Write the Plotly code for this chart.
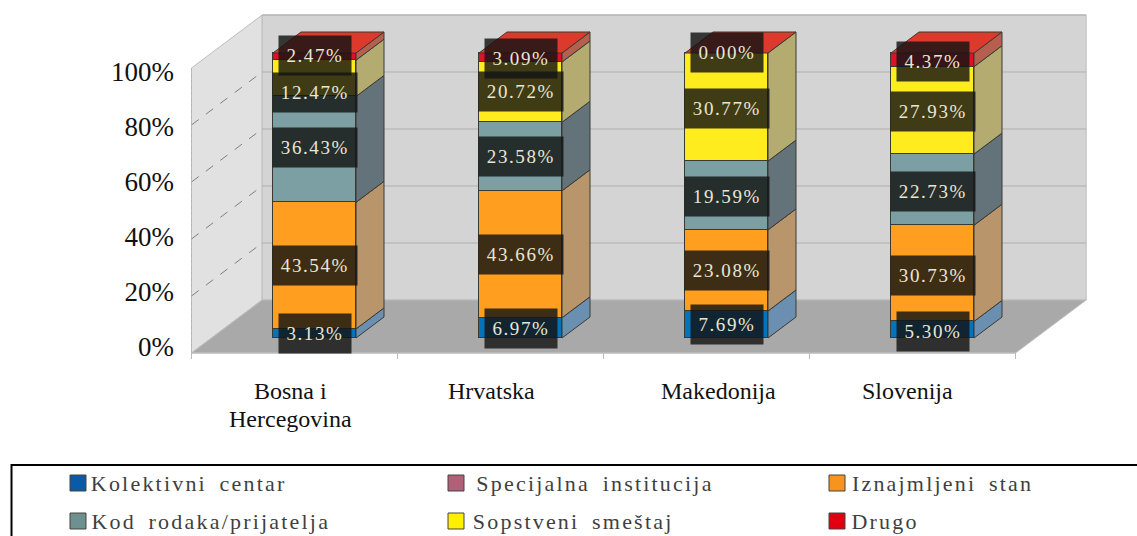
import numpy as np
import plotly.graph_objects as go

# ---------- data ----------
CATEGORIES = ["Bosna i<br>Hercegovina", "Hrvatska", "Makedonija", "Slovenija"]
SERIES = ["Kolektivni centar", "Specijalna institucija", "Iznajmljeni stan",
          "Kod rodaka/prijatelja", "Sopstveni smeštaj", "Drugo"]
KOLEKTIVNI = [3.13, 6.97, 7.69, 5.30]
SPECIJALNA = [0.0, 0.0, 0.0, 0.0]      # in the legend, but no visible band in any bar
IZNAJMLJENI = [43.54, 43.66, 23.08, 30.73]
KOD_RODAKA = [36.43, 23.58, 19.59, 22.73]
SOPSTVENI = [12.47, 20.72, 30.77, 27.93]
DRUGO = [2.47, 3.09, 0.00, 4.37]
VALUES = [KOLEKTIVNI, SPECIJALNA, IZNAJMLJENI, KOD_RODAKA, SOPSTVENI, DRUGO]
Y_TICKS = [0, 20, 40, 60, 80, 100]
Y_TICK_LABELS = ["0%", "20%", "40%", "60%", "80%", "100%"]

# ---------- styles / layout constants ----------
W, H = 1137, 536
FONT = "Liberation Serif"
FRONT = ["#0672B8", "#A85A70", "#FF9E1F", "#7C9FA3", "#FFEC1E", "#DC1228"]
SIDE = ["#6A8FB0", "#8A6A74", "#B8956B", "#64727A", "#B3AB70", "#B5604E"]
TOP = "#DD3A2E"
SWATCH = ["#0A5AA8", "#B2607A", "#F7941E", "#6E9090", "#FFF000", "#E00010"]
EDGE = "#3A3A32"

PX_X0, PX_DX = 314.5, 206.0      # bar 0 centre, px per category
PX_Y0, PX_DY = 338.0, 2.85       # bar base, px per percent
BAR_W = 83 / PX_DX
DX, DY = 28 / PX_DX, 21 / PX_DY  # projection of one bar depth
D_FRONT, D_BACK = -0.714, 1.81
XL, XR = -0.5, 3.5


def proj(x, v, d):
    return x + d * DX, v + d * DY


def poly(points):
    xs, ys = zip(*points)
    return list(xs) + [xs[0], None], list(ys) + [ys[0], None]


def path(points):
    return "M" + " L".join(f"{x:.5f},{y:.4f}" for x, y in points) + " Z"


def line_shape(p, q, color, width=1, dash="solid"):
    return dict(type="line", xref="x", yref="y", layer="below", x0=p[0], y0=p[1], x1=q[0], y1=q[1],
                line=dict(color=color, width=width, dash=dash))


shapes = []
# walls and floor
walls = [
    ([(XL, 0, D_FRONT), (XL, 100, D_FRONT), (XL, 100, D_BACK), (XL, 0, D_BACK)], "#E1E1E1"),
    ([(XL, 0, D_BACK), (XL, 100, D_BACK), (XR, 100, D_BACK), (XR, 0, D_BACK)], "#D4D4D4"),
    ([(XL, 0, D_FRONT), (XL, 0, D_BACK), (XR, 0, D_BACK), (XR, 0, D_FRONT)], "#A9A9A9"),
]
for pts, col in walls:
    shapes.append(dict(type="path", xref="x", yref="y", layer="below",
                       path=path([proj(*p) for p in pts]), fillcolor=col,
                       line=dict(color="#BDBDBD", width=1)))
for t in Y_TICKS:
    if t > 0:
        shapes.append(line_shape(proj(XL, t, D_BACK), proj(XR, t, D_BACK), "#B0B0B0"))
    if 0 < t < 100:
        shapes.append(line_shape(proj(XL, t, D_FRONT), proj(XL, t, D_BACK), "#808080", 1, "dash"))
shapes.append(line_shape(proj(XL, 0, D_FRONT), proj(XL, 100, D_FRONT), "#B5B5B5", 1, "dot"))
for k in range(5):
    p = proj(XL + k, 0, D_FRONT)
    shapes.append(line_shape(p, (p[0], p[1] - 6 / PX_DY), "#BBBBBB"))
shapes.append(line_shape(proj(XL, 0, D_FRONT), proj(XR, 0, D_FRONT), "#BBBBBB"))

fig = go.Figure()
x_pos = list(range(len(CATEGORIES)))

# fronts of the bars (normalised to 100 % by the library)
for name, vals, col in zip(SERIES, VALUES, FRONT):
    fig.add_trace(go.Bar(x=x_pos, y=vals, name=name, width=BAR_W, showlegend=False,
                         marker=dict(color=col, line=dict(color=EDGE, width=1))))

# side and top faces, from the same values
arr = np.array(VALUES, dtype=float)
cum = np.cumsum(arr, axis=0) / arr.sum(axis=0) * 100
lower = np.vstack([np.zeros(arr.shape[1]), cum[:-1]])
for s, name in enumerate(SERIES):
    xs, ys = [], []
    for i in x_pos:
        xr = i + BAR_W / 2
        a, b = lower[s, i], cum[s, i]
        if b - a <= 0:
            continue
        px, py = poly([proj(xr, a, 0), proj(xr, b, 0), proj(xr, b, 1), proj(xr, a, 1)])
        xs += px
        ys += py
    fig.add_trace(go.Scatter(x=xs, y=ys, mode="lines", fill="toself", fillcolor=SIDE[s],
                             line=dict(color=EDGE, width=1), showlegend=False, hoverinfo="skip",
                             name=name + " side"))
xs, ys = [], []
for i in x_pos:
    xl, xr = i - BAR_W / 2, i + BAR_W / 2
    px, py = poly([proj(xl, 100, 0), proj(xr, 100, 0), proj(xr, 100, 1), proj(xl, 100, 1)])
    xs += px
    ys += py
fig.add_trace(go.Scatter(x=xs, y=ys, mode="lines", fill="toself", fillcolor=TOP,
                         line=dict(color=EDGE, width=1), showlegend=False, hoverinfo="skip", name="top"))

# carrier of the percentage axis
fig.add_trace(go.Scatter(x=[0] * len(Y_TICKS), y=Y_TICKS, yaxis="y2", mode="markers", opacity=0,
                         showlegend=False, hoverinfo="skip", name="axis"))

# value labels: pixel rows of the printed boxes, bar by bar
LABEL_ROWS = [
    [333, 266, 147, 93, 55],
    [328, 254, 156, 92, 58],
    [324, 270, 196, 108, 53],
    [331, 275, 191, 111, 61],
]
LABEL_SERIES = [KOLEKTIVNI, IZNAJMLJENI, KOD_RODAKA, SOPSTVENI, DRUGO]
anns = []
for i in x_pos:
    for vals, row in zip(LABEL_SERIES, LABEL_ROWS[i]):
        txt = f"{vals[i]:.2f}%"
        wide = len(txt) > 5
        anns.append(dict(x=i, xref="x", y=1 - row / H, yref="paper", text=txt, showarrow=False,
                         xanchor="center", yanchor="middle", width=84 if wide else 72, height=39,
                         bgcolor="rgba(20,20,20,0.82)", borderpad=0,
                         font=dict(family=FONT, size=19, color="#EAE6D2")))
n_value = len(anns)

# category labels (placed as in the reference, not under the bars)
CAT_CENTRES = [290, 491, 718, 907]
for txt, cx in zip(CATEGORIES, CAT_CENTRES):
    for j, part in enumerate(txt.split("<br>")):
        anns.append(dict(x=cx / W, xref="paper", y=1 - (391 + 28 * j) / H, yref="paper", text=part,
                         showarrow=False, xanchor="center", yanchor="middle",
                         font=dict(family=FONT, size=24, color="#111111")))
n_plain = len(anns)

# legend box
LEG_SW_X = [[70, 448, 829], [70, 448, 829]]
LEG_ROWS = [483, 521]
LEG_CENTRES = [[189, 595, 942], [211, 573, 885]]
order = [[0, 1, 2], [3, 4, 5]]
for r, row_y in enumerate(LEG_ROWS):
    for c in range(3):
        s = order[r][c]
        sx = LEG_SW_X[r][c]
        shapes.append(dict(type="rect", xref="paper", yref="paper", x0=sx / W, x1=(sx + 16) / W,
                           y0=1 - (row_y - 8) / H, y1=1 - (row_y + 8) / H, fillcolor=SWATCH[s],
                           line=dict(color="#44443C", width=1)))
        anns.append(dict(x=LEG_CENTRES[r][c] / W, xref="paper", y=1 - row_y / H, yref="paper",
                         text=SERIES[s], showarrow=False, xanchor="center", yanchor="middle",
                         font=dict(family=FONT, size=22, color="#3F3F3F")))
shapes.append(dict(type="line", xref="paper", yref="paper", x0=11.5 / W, x1=1, y0=1 - 465 / H, y1=1 - 465 / H,
                   line=dict(color="black", width=2)))
shapes.append(dict(type="line", xref="paper", yref="paper", x0=11.5 / W, x1=11.5 / W, y0=1 - 464 / H, y1=0,
                   line=dict(color="black", width=2)))

TICK_0, TICK_PX = 347.0, 2.75
fig.update_layout(
    width=W, height=H, margin=dict(l=0, r=0, t=0, b=0), autosize=False,
    paper_bgcolor="white", plot_bgcolor="white", showlegend=False,
    barmode="stack", barnorm="percent", bargap=0, hovermode=False,
    xaxis=dict(range=[-PX_X0 / PX_DX, (W - PX_X0) / PX_DX], visible=False, fixedrange=True),
    yaxis=dict(range=[(PX_Y0 - H) / PX_DY, PX_Y0 / PX_DY], visible=False, fixedrange=True),
    yaxis2=dict(overlaying="y", anchor="free", position=174 / W, side="left",
                range=[(TICK_0 - H) / TICK_PX, TICK_0 / TICK_PX], tickmode="array",
                tickvals=Y_TICKS, ticktext=Y_TICK_LABELS, showgrid=False, zeroline=False,
                showline=False, ticks="", fixedrange=True,
                tickfont=dict(family=FONT, size=27, color="#111111")),
    shapes=shapes, annotations=anns,
)

post = """
document.body.style.margin = '0';
document.body.style.overflow = 'hidden';
document.querySelectorAll('.annotation').forEach(function (a) {
  var i = +a.getAttribute('data-index');
  var t = a.querySelector('.annotation-text');
  if (!t) return;
  if (i < %d) { t.style.letterSpacing = '1.6px'; }
  else if (i >= %d) { t.style.letterSpacing = '2.2px'; t.style.wordSpacing = '5px'; }
});
""" % (n_value, n_plain)
fig.write_html("out.html", post_script=post, config={"displayModeBar": False})
